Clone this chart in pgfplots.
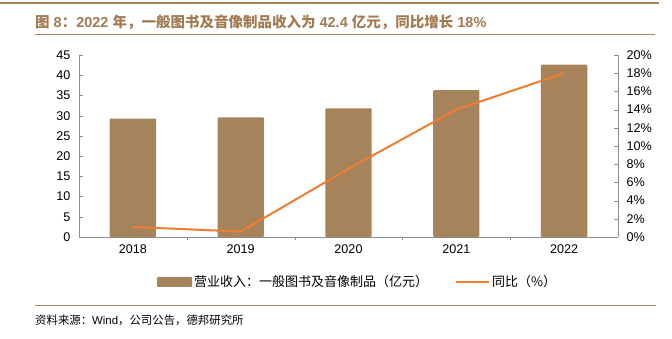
\documentclass[border=0pt]{standalone}
\usepackage{pgfplots}
\pgfplotsset{compat=1.18}
\usepackage{fontspec}
\setmainfont{Liberation Sans}
\newfontfamily\cjk{Noto Sans CJK SC}
\definecolor{barc}{HTML}{A6835B}
\definecolor{linec}{HTML}{ED7D31}
\definecolor{titlec}{HTML}{A27B52}
\definecolor{rulec}{HTML}{A98560}
\definecolor{axc}{HTML}{8C8C8C}
\begin{document}
\begin{tikzpicture}[x=1pt,y=1pt]
\path[use as bounding box] (0,0) rectangle (672,338);
\begin{axis}[
  at={(79pt,101pt)}, anchor=south west,
  width=539pt, height=182pt, scale only axis,
  xmin=-0.5, xmax=4.5, ymin=0, ymax=45,
  xtick={0,1,2,3,4}, xticklabels={2018,2019,2020,2021,2022},
  major x tick style={draw=none},
  minor xtick={0.5,1.5,2.5,3.5},
  minor x tick style={yshift=-3pt, draw=axc},
  minor tick length=3pt, major tick length=3.5pt,
  ytick={0,5,...,45},
  axis x line*=bottom, axis y line*=left,
  axis line style={-, draw=axc},
  y tick style={draw=axc},
  tick label style={font=\fontsize{12.6}{15}\selectfont},
  /pgf/number format/assume math mode=true,
  yticklabel style={xshift=-5pt},
  xticklabel style={yshift=-4pt},
  legend style={at={(0.517,-0.247)}, anchor=center, draw=none, fill=none,
    legend columns=2, font=\cjk\fontsize{13}{15}\selectfont,
    /tikz/every even column/.append style={column sep=25pt},
    /tikz/every odd column/.append style={column sep=0pt}},
]
\addplot[ybar, bar width=0.43, fill=barc, draw=none, rounded corners=1pt,
  legend image code/.code={\fill[barc] (0pt,-5pt) rectangle (35pt,5pt);}]
  coordinates {(0,29.3) (1,29.6) (2,31.8) (3,36.3) (4,42.6)};
\addlegendentry{营业收入：一般图书及音像制品（亿元）}
\addlegendimage{legend image code/.code={\draw[linec, line width=2pt] (0pt,0pt) -- (33pt,0pt);}}
\addlegendentry{同比（\%）}
\end{axis}
\begin{axis}[
  at={(79pt,101pt)}, anchor=south west,
  width=539pt, height=182pt, scale only axis,
  xmin=-0.5, xmax=4.5, ymin=0, ymax=20,
  hide x axis,
  axis y line*=right,
  axis line style={-, draw=axc},
  y tick style={draw=axc},
  major tick length=4.5pt,
  ytick={0,2,...,20},
  yticklabel={\pgfmathprintnumber{\tick}\%},
  tick label style={font=\fontsize{12.6}{15}\selectfont},
  /pgf/number format/assume math mode=true,
  yticklabel style={xshift=5pt},
]
\addplot[linec, line width=2pt, line join=round, mark=none]
  coordinates {(0,1.1) (1,0.6) (2,7.5) (3,14.0) (4,18.0)};
\end{axis}
\draw[rulec, line width=2pt] (0,335) -- (659,335);
\node[anchor=west, inner sep=0pt, text=titlec, font=\bfseries\fontsize{14.5}{17}\selectfont] at (35,316)
  {{\cjk 图} 8{\cjk ：}2022 {\cjk 年，一般图书及音像制品收入为} 42.4 {\cjk 亿元，同比增长} 18\%};
\draw[rulec, line width=1pt] (35,303) -- (655,303);
\draw[rulec, line width=1pt] (35,33) -- (656,33);
\node[anchor=west, inner sep=0pt, font=\fontsize{11.4}{13}\selectfont] at (35,18)
  {{\cjk 资料来源：}Wind{\cjk ，公司公告，德邦研究所}};
\end{tikzpicture}
\end{document}
